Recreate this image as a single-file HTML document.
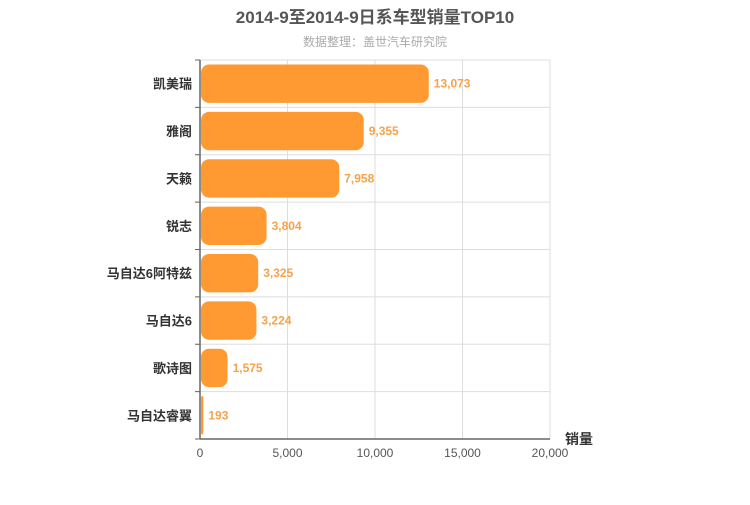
<!DOCTYPE html>
<html><head><meta charset="utf-8"><style>
body{margin:0;background:#fff;}
svg{font-family:"Liberation Sans","Noto Sans CJK SC",sans-serif;}
</style></head><body>
<svg id="c" width="750" height="500">
<text x="375" y="23" text-anchor="middle" font-size="17" font-weight="bold" fill="#555">2014-9至2014-9日系车型销量TOP10</text>
<text x="375" y="46" text-anchor="middle" font-size="12" fill="#aaa">数据整理：盖世汽车研究院</text>
<text x="565" y="444" font-size="14" font-weight="bold" fill="#333">销量</text>
</svg>
<script>
const categories=["凯美瑞","雅阁","天籁","锐志","马自达6阿特兹","马自达6","歌诗图","马自达睿翼"];
const values=[13073,9355,7958,3804,3325,3224,1575,193];
const ticks=[0,5000,10000,15000,20000];
const svg=document.getElementById('c');const NS='http://www.w3.org/2000/svg';
const L=200,R=550,T=60,B=439,max=20000;
const x=v=>L+(R-L)*v/max;const rh=(B-T)/categories.length;
function mk(t,a,p){const e=document.createElementNS(NS,t);for(const k in a)e.setAttribute(k,a[k]);(p||svg).appendChild(e);return e;}
const fmt=v=>v.toLocaleString('en-US');
ticks.forEach(t=>{const g=mk('line',{x1:x(t),x2:x(t),y1:T,y2:B,stroke:'#ddd'});


const tl=mk('text',{x:x(t),y:B+18,'text-anchor':'middle','font-size':12,fill:'#555'});tl.textContent=fmt(t);

});
for(let i=0;i<=categories.length;i++){const y=T+i*rh;const g=mk('line',{x1:195,x2:R,y1:y,y2:y,stroke:'#ddd'});


mk('line',{x1:195,x2:200,y1:y,y2:y,stroke:'#666'});}
const ax=mk('line',{x1:L,x2:L,y1:T,y2:B,stroke:'#666','stroke-width':1.5});


const bx=mk('line',{x1:L,x2:R,y1:B,y2:B,stroke:'#666','stroke-width':1.5});


categories.forEach((c,i)=>{const y=T+i*rh;const w=x(values[i])-L;
const r=mk('rect',{x:L+1,y:y+4.5,width:Math.max(w-1,2),height:rh-9,rx:Math.min(8,w/2),fill:'#ff9a33'});


const lb=mk('text',{x:x(values[i])+5,y:y+rh/2+4,'font-size':12,'font-weight':'bold',fill:'#f6a24a'});lb.textContent=fmt(values[i]);


const cl=mk('text',{x:192,y:y+rh/2+5,'text-anchor':'end','font-size':13,'font-weight':'bold',fill:'#333'});cl.textContent=c;

});
</script>
</body></html>
